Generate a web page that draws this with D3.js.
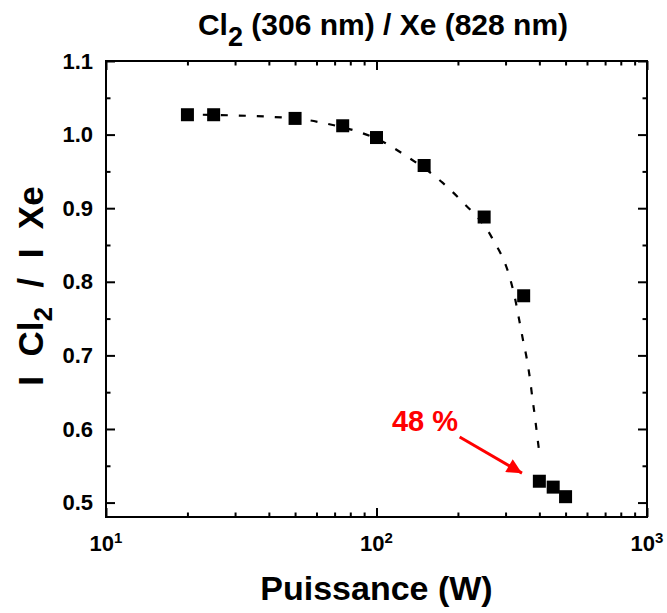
<!DOCTYPE html>
<html>
<head>
<meta charset="utf-8">
<script src="https://cdn.jsdelivr.net/npm/d3@7"></script>
<style>
body { margin: 0; background: #fff; }
text { font-family: Arial, "Liberation Sans", sans-serif; font-weight: bold; }
</style>
</head>
<body>
<div id="chart"></div>
<script>
// measured points
var power = [20, 25, 50, 75, 100, 150, 250, 350, 400, 450, 500];
var ratio = [1.027, 1.027, 1.022, 1.012, 0.996, 0.958, 0.888, 0.781, 0.529, 0.521, 0.508];

// dashed guide curve
var fitPower = [22.8, 50, 65, 87, 106, 125, 175, 206, 267, 312, 325, 337, 348, 360, 369, 377, 385, 393, 402];
var fitRatio = [1.027, 1.022, 1.015, 1.003, 0.990, 0.974, 0.935, 0.910, 0.860, 0.804, 0.778, 0.748, 0.721, 0.694, 0.669, 0.642, 0.617, 0.590, 0.561];

// ticks
var xMajor = [10, 100, 1000];
var xMinor = [20, 30, 40, 50, 60, 70, 80, 90, 200, 300, 400, 500, 600, 700, 800, 900];
var yMajor = [0.5, 0.6, 0.7, 0.8, 0.9, 1.0, 1.1];
var yMinor = [0.55, 0.65, 0.75, 0.85, 0.95, 1.05];

// red note
var noteText = "48 %";
var noteAt = [114, 0.597];
var arrowFrom = [203, 0.589];
var arrowTo = [345, 0.540];

var svgWidth = 667;
var svgHeight = 613;

var margin = {
    top: 61,
    bottom: 96,
    right: 20,
    left: 106
};

var width = svgWidth - margin.left - margin.right;
var height = svgHeight - margin.top - margin.bottom;

var svg = d3.select("#chart")
    .append("svg")
    .attr("width", svgWidth)
    .attr("height", svgHeight);

var chartGroup = svg.append("g")
    .attr("transform", `translate(${margin.left}, ${margin.top})`);

var xLogScale = d3.scaleLog()
    .domain([10, 1000])
    .range([0, width]);

var yLinearScale = d3.scaleLinear()
    .domain([0.4804, 1.1])
    .range([height, 0]);

// axes, ticks pointing inward on all four sides
function styleAxis(g) {
    g.select(".domain").remove();
    g.selectAll(".tick line").attr("stroke", "black").attr("stroke-width", 2);
}

chartGroup.append("g")
    .attr("transform", `translate(0, ${height})`)
    .call(d3.axisBottom(xLogScale).tickValues(xMajor).tickSize(-9).tickFormat(""))
    .call(styleAxis);
chartGroup.append("g")
    .attr("transform", `translate(0, ${height})`)
    .call(d3.axisBottom(xLogScale).tickValues(xMinor).tickSize(-4.5).tickFormat(""))
    .call(styleAxis);
chartGroup.append("g")
    .call(d3.axisTop(xLogScale).tickValues(xMajor).tickSize(-9).tickFormat(""))
    .call(styleAxis);
chartGroup.append("g")
    .call(d3.axisTop(xLogScale).tickValues(xMinor).tickSize(-4.5).tickFormat(""))
    .call(styleAxis);

var yAxisLeft = chartGroup.append("g")
    .call(d3.axisLeft(yLinearScale).tickValues(yMajor).tickSize(-9).tickPadding(13).tickFormat(d3.format(".1f")))
    .call(styleAxis);
yAxisLeft.selectAll(".tick text")
    .attr("font-size", "22px")
    .attr("font-family", "Arial, 'Liberation Sans', sans-serif")
    .attr("fill", "black");
chartGroup.append("g")
    .call(d3.axisLeft(yLinearScale).tickValues(yMinor).tickSize(-4.5).tickFormat(""))
    .call(styleAxis);
chartGroup.append("g")
    .attr("transform", `translate(${width}, 0)`)
    .call(d3.axisRight(yLinearScale).tickValues(yMajor).tickSize(-9).tickFormat(""))
    .call(styleAxis);
chartGroup.append("g")
    .attr("transform", `translate(${width}, 0)`)
    .call(d3.axisRight(yLinearScale).tickValues(yMinor).tickSize(-4.5).tickFormat(""))
    .call(styleAxis);

// x tick labels as powers of ten
var xLabels = chartGroup.selectAll(".xlab")
    .data(xMajor)
    .enter()
    .append("text")
    .attr("class", "xlab")
    .attr("x", d => xLogScale(d))
    .attr("y", height + 34)
    .attr("text-anchor", "middle")
    .attr("font-size", "22px");
xLabels.append("tspan").text("10");
xLabels.append("tspan")
    .attr("dy", -8)
    .attr("font-size", "15px")
    .text(d => Math.round(Math.log10(d)));

// frame
chartGroup.append("rect")
    .attr("width", width)
    .attr("height", height)
    .attr("fill", "none")
    .attr("stroke", "black")
    .attr("stroke-width", 2);

// dashed curve
var fitData = fitPower.map((p, i) => [p, fitRatio[i]]);
var line = d3.line()
    .x(d => xLogScale(d[0]))
    .y(d => yLinearScale(d[1]))
    .curve(d3.curveMonotoneX);

chartGroup.append("path")
    .datum(fitData)
    .attr("d", line)
    .attr("fill", "none")
    .attr("stroke", "black")
    .attr("stroke-width", 2.2)
    .attr("stroke-dasharray", "7,11");

// square markers
var side = 13;
chartGroup.selectAll(".pt")
    .data(power)
    .enter()
    .append("rect")
    .attr("class", "pt")
    .attr("x", d => xLogScale(d) - side / 2)
    .attr("y", (d, i) => yLinearScale(ratio[i]) - side / 2)
    .attr("width", side)
    .attr("height", side)
    .attr("fill", "black");

// annotation
svg.append("defs").append("marker")
    .attr("id", "head")
    .attr("viewBox", "0 0 10 10")
    .attr("refX", 10)
    .attr("refY", 5)
    .attr("markerWidth", 6)
    .attr("markerHeight", 5)
    .attr("markerUnits", "strokeWidth")
    .attr("orient", "auto")
    .append("path")
    .attr("d", "M0,0 L10,5 L0,10 Z")
    .attr("fill", "#ff0000");

chartGroup.append("line")
    .attr("x1", xLogScale(arrowFrom[0]))
    .attr("y1", yLinearScale(arrowFrom[1]))
    .attr("x2", xLogScale(arrowTo[0]))
    .attr("y2", yLinearScale(arrowTo[1]))
    .attr("stroke", "#ff0000")
    .attr("stroke-width", 3)
    .attr("marker-end", "url(#head)");

chartGroup.append("text")
    .attr("x", xLogScale(noteAt[0]))
    .attr("y", yLinearScale(noteAt[1]))
    .attr("font-size", "29px")
    .attr("fill", "#ff0000")
    .text(noteText);

// title
var title = svg.append("text")
    .attr("x", 383)
    .attr("y", 35)
    .attr("text-anchor", "middle")
    .attr("font-size", "30px");
title.append("tspan").text("Cl");
title.append("tspan").attr("dy", 11).attr("font-size", "27px").text("2");
title.append("tspan").attr("dy", -11).text(" (306 nm) / Xe (828 nm)");

// axis labels
svg.append("text")
    .attr("x", margin.left + width / 2)
    .attr("y", 600)
    .attr("text-anchor", "middle")
    .attr("font-size", "34px")
    .text("Puissance (W)");

var yTitle = svg.append("text")
    .attr("transform", `translate(43, ${margin.top + height / 2 - 3}) rotate(-90)`)
    .attr("text-anchor", "middle")
    .attr("font-size", "35px")
    .style("white-space", "pre");
yTitle.append("tspan").text("I  Cl");
yTitle.append("tspan").attr("dy", 9).attr("font-size", "26px").text("2");
yTitle.append("tspan").attr("dy", -9).text("  /  I  Xe");
</script>
</body>
</html>
